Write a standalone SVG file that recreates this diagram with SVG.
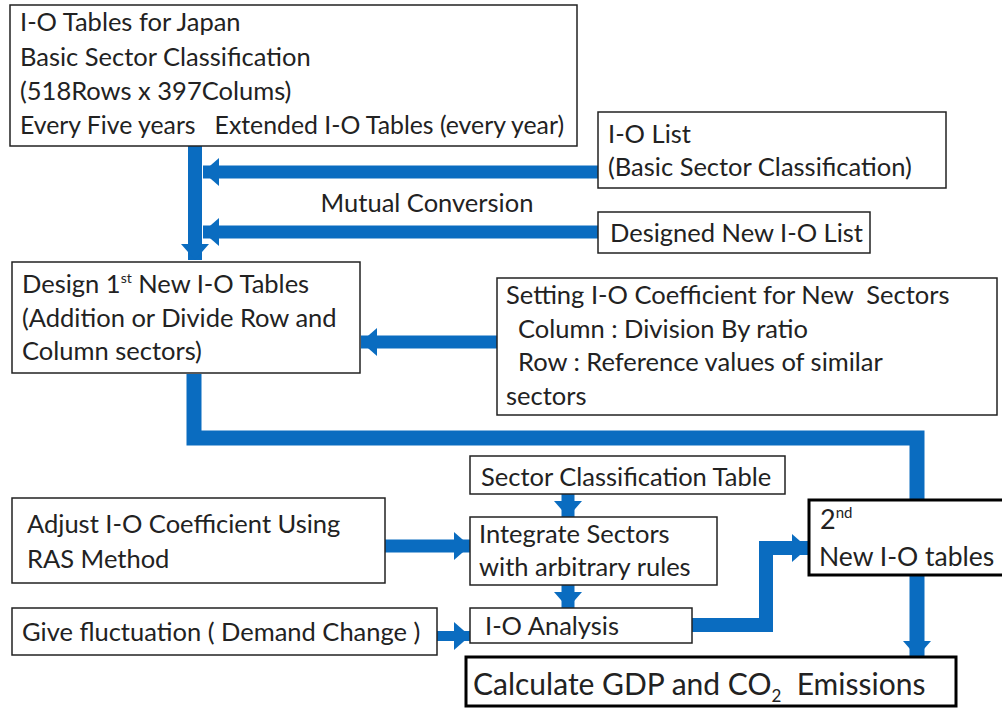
<svg xmlns="http://www.w3.org/2000/svg" width="1002" height="708" viewBox="0 0 1002 708">
<style>
.box{fill:#fff;stroke:#222;stroke-width:1.5}
.bold{fill:#fff;stroke:#000;stroke-width:3}
.t{font-family:Lato,"Liberation Sans",sans-serif;font-size:25.5px;fill:#222}
.big{font-size:30px}
.c{fill:none;stroke:#0a6cc0;stroke-linejoin:miter}
</style>
<defs>
<marker id="ah" markerUnits="userSpaceOnUse" markerWidth="16" markerHeight="28" viewBox="0 0 16 28" refX="16" refY="14" orient="auto">
<path d="M0,0 L16,14 L0,28 z" fill="#0a6cc0"/>
</marker>
</defs>
<rect width="1002" height="708" fill="#fff"/>
<g id="connectors">
<path class="c" d="M195,146 V260" stroke-width="14" marker-end="url(#ah)"/>
<path class="c" d="M598,172 H203" stroke-width="13" marker-end="url(#ah)"/>
<path class="c" d="M598,232 H203" stroke-width="13" marker-end="url(#ah)"/>
<path class="c" d="M497,342 H361" stroke-width="13" marker-end="url(#ah)"/>
<path class="c" d="M194,374 V438 H917 V500" stroke-width="15"/>
<path class="c" d="M568,494 V517" stroke-width="13" marker-end="url(#ah)"/>
<path class="c" d="M568,585 V608" stroke-width="13" marker-end="url(#ah)"/>
<path class="c" d="M385,546 H470" stroke-width="13" marker-end="url(#ah)"/>
<path class="c" d="M437,636 H470" stroke-width="10" marker-end="url(#ah)"/>
<path class="c" d="M692,625 H766 V548 H808" stroke-width="14" marker-end="url(#ah)"/>
<path class="c" d="M917,575 V657" stroke-width="15" marker-end="url(#ah)"/>
</g>
<g id="n-top">
<rect class="box" x="10" y="5" width="567" height="141"/>
<text class="t" x="20" y="31">I-O Tables for Japan</text>
<text class="t" x="20" y="66">Basic Sector Classification</text>
<text class="t" x="20" y="100">(518Rows x 397Colums)</text>
<text class="t" x="20" y="134" style="font-size:24.8px" xml:space="preserve">Every Five years   Extended I-O Tables (every year)</text>
</g>
<g id="n-iolist">
<rect class="box" x="598" y="112" width="348" height="76"/>
<text class="t" x="608" y="143">I-O List</text>
<text class="t" x="608" y="176">(Basic Sector Classification)</text>
</g>
<g id="n-mutual">
<text class="t" x="427" y="212" text-anchor="middle">Mutual Conversion</text>
</g>
<g id="n-designed">
<rect class="box" x="598" y="212" width="272" height="41"/>
<text class="t" x="610" y="242">Designed New I-O List</text>
</g>
<g id="n-design1">
<rect class="box" x="12" y="262" width="348" height="111"/>
<text class="t" x="22" y="293">Design 1<tspan font-size="14" dy="-10">st</tspan><tspan dy="10"> New I-O Tables</tspan></text>
<text class="t" x="22" y="327">(Addition or Divide Row and</text>
<text class="t" x="22" y="360">Column sectors)</text>
</g>
<g id="n-setting">
<rect class="box" x="497" y="278" width="500" height="137"/>
<text class="t" x="506" y="304" xml:space="preserve">Setting I-O Coefficient for New  Sectors</text>
<text class="t" x="518" y="338">Column : Division By ratio</text>
<text class="t" x="518" y="371">Row : Reference values of similar</text>
<text class="t" x="506" y="405">sectors</text>
</g>
<g id="n-sector">
<rect class="box" x="470" y="456" width="315" height="38"/>
<text class="t" x="481" y="486">Sector Classification Table</text>
</g>
<g id="n-adjust">
<rect class="box" x="12" y="498" width="373" height="85"/>
<text class="t" x="27" y="533">Adjust I-O Coefficient Using</text>
<text class="t" x="27" y="568">RAS Method</text>
</g>
<g id="n-integrate">
<rect class="box" x="470" y="517" width="247" height="68"/>
<text class="t" x="479" y="543">Integrate Sectors</text>
<text class="t" x="479" y="576">with arbitrary rules</text>
</g>
<g id="n-second">
<rect class="bold" x="809" y="500" width="200" height="75"/>
<text class="t" x="820" y="529" style="font-size:27px">2<tspan font-size="15" dy="-11">nd</tspan></text>
<text class="t" x="819" y="566" style="font-size:26.5px">New I-O tables</text>
</g>
<g id="n-give">
<rect class="box" x="12" y="608" width="425" height="47"/>
<text class="t" x="22" y="641">Give fluctuation ( Demand Change )</text>
</g>
<g id="n-ioanalysis">
<rect class="box" x="470" y="608" width="222" height="35"/>
<text class="t" x="485" y="635">I-O Analysis</text>
</g>
<g id="n-calc">
<rect class="bold" x="466" y="657" width="490" height="49"/>
<text class="t big" x="473" y="695" xml:space="preserve">Calculate GDP and CO<tspan font-size="17" dy="7">2</tspan><tspan dy="-7">  Emissions</tspan></text>
</g>
</svg>
